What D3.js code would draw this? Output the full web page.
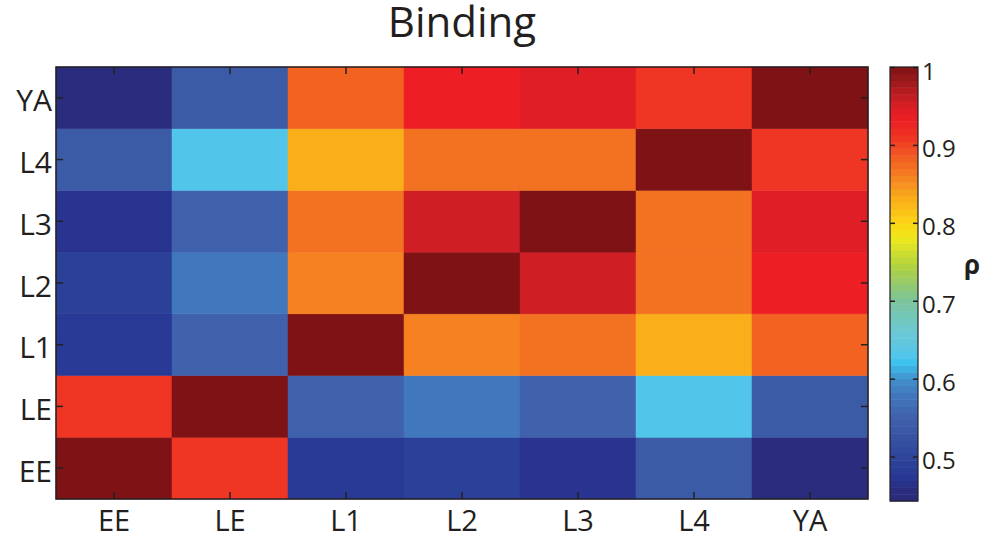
<!DOCTYPE html>
<html>
<head>
<meta charset="utf-8">
<script src="https://cdn.jsdelivr.net/npm/d3@7"></script>
<style>
  body { margin: 0; background: #fff; }
  text { font-family: "Open Sans", "Noto Sans", sans-serif; fill: #231f20; }
  .axis path { display: none; }
  .axis line { stroke: #231f20; stroke-width: 1.5; }
</style>
</head>
<body>
<svg id="chart"></svg>
<script>
// stages on both axes (bottom row first)
var stages = ["EE", "LE", "L1", "L2", "L3", "L4", "YA"];

// correlation values, one row per y stage (EE .. YA), columns in x order
var rowEE = [1.000, 0.910, 0.475, 0.490, 0.470, 0.540, 0.455];
var rowLE = [0.910, 1.000, 0.550, 0.580, 0.550, 0.630, 0.540];
var rowL1 = [0.475, 0.550, 1.000, 0.860, 0.870, 0.830, 0.880];
var rowL2 = [0.490, 0.580, 0.860, 1.000, 0.955, 0.870, 0.930];
var rowL3 = [0.470, 0.550, 0.870, 0.955, 1.000, 0.870, 0.945];
var rowL4 = [0.540, 0.630, 0.830, 0.870, 0.870, 1.000, 0.910];
var rowYA = [0.455, 0.540, 0.880, 0.930, 0.945, 0.910, 1.000];
var rows = [rowEE, rowLE, rowL1, rowL2, rowL3, rowL4, rowYA];

var colorbarTicks = [0.5, 0.6, 0.7, 0.8, 0.9, 1];
var rhoMin = 0.443, rhoMax = 1;

// jet-like colour map
var stopValues = [0.443, 0.455, 0.47, 0.475, 0.49, 0.54, 0.55, 0.58, 0.60, 0.62, 0.63, 0.66,
                  0.70, 0.74, 0.78, 0.80, 0.83, 0.86, 0.87, 0.88, 0.91, 0.93, 0.945, 0.955, 0.975, 1.0];
var stopColors = ["#2a2a78", "#2a2d7d", "#293490", "#283996", "#2b4097", "#3c5ba7", "#4061ac",
                  "#4178bd", "#4390cb", "#3ac3ee", "#52c5ea", "#6cc8d4", "#7bc49c", "#aad046",
                  "#eee81c", "#fcd615", "#f9ae1a", "#f68121", "#f27222", "#f26322", "#ef3624",
                  "#ed1f24", "#e01e25", "#cf1f25", "#a81b20", "#7e1214"];

var canvas_width = 994, canvas_height = 540;
var plotLeft = 56, plotRight = 868, plotTop = 67, plotBottom = 499;

var color = d3.scaleLinear().domain(stopValues).range(stopColors)
  .interpolate(d3.interpolateRgb).clamp(true);

var svg = d3.select("#chart").attr("width", canvas_width).attr("height", canvas_height);

var xScale = d3.scaleBand().domain(stages).range([plotLeft, plotRight]);
var yScale = d3.scaleBand().domain(stages).range([plotBottom, plotTop]);

// cells
var cells = [];
rows.forEach(function (r, i) {
  r.forEach(function (v, j) {
    cells.push({ row: stages[i], col: stages[j], value: v });
  });
});

svg.append("g")
  .selectAll("rect")
  .data(cells)
  .enter()
  .append("rect")
  .attr("x", function (d) { return xScale(d.col); })
  .attr("y", function (d) { return yScale(d.row); })
  .attr("width", xScale.bandwidth())
  .attr("height", yScale.bandwidth())
  .attr("fill", function (d) { return color(d.value); })
  .attr("stroke", function (d) { return color(d.value); })
  .attr("stroke-width", 0.5);

// frame
svg.append("rect")
  .attr("x", plotLeft).attr("y", plotTop)
  .attr("width", plotRight - plotLeft).attr("height", plotBottom - plotTop)
  .attr("fill", "none").attr("stroke", "#231f20").attr("stroke-width", 1.5);

// axes, ticks pointing inward on all four sides
var xAxis = svg.append("g").attr("class", "axis")
  .attr("transform", "translate(0," + plotBottom + ")")
  .call(d3.axisBottom(xScale).tickSize(-7));
xAxis.selectAll("text")
  .attr("y", 32).attr("dy", 0)
  .style("font-size", "29px");

svg.append("g").attr("class", "axis")
  .attr("transform", "translate(0," + plotTop + ")")
  .call(d3.axisTop(xScale).tickSize(-7).tickFormat(""));

var yAxis = svg.append("g").attr("class", "axis")
  .attr("transform", "translate(" + plotLeft + ",0)")
  .call(d3.axisLeft(yScale).tickSize(-7));
yAxis.selectAll("text")
  .attr("x", -4).attr("dy", "0.45em")
  .style("font-size", "30px");

svg.append("g").attr("class", "axis")
  .attr("transform", "translate(" + plotRight + ",0)")
  .call(d3.axisRight(yScale).tickSize(-7).tickFormat(""));

// title
svg.append("text")
  .attr("x", (plotLeft + plotRight) / 2)
  .attr("y", 37)
  .attr("text-anchor", "middle")
  .style("font-size", "42px")
  .text("Binding");

// colour bar
var cbLeft = 890, cbRight = 918, cbTop = 67, cbBottom = 501;
var cbScale = d3.scaleLinear().domain([rhoMin, rhoMax]).range([cbBottom, cbTop]);
var nBands = 64;
var bands = d3.range(nBands).map(function (i) {
  return {
    lo: rhoMin + (rhoMax - rhoMin) * i / nBands,
    hi: rhoMin + (rhoMax - rhoMin) * (i + 1) / nBands
  };
});

svg.append("g")
  .selectAll("rect")
  .data(bands)
  .enter()
  .append("rect")
  .attr("x", cbLeft)
  .attr("y", function (d) { return cbScale(d.hi); })
  .attr("width", cbRight - cbLeft)
  .attr("height", function (d) { return cbScale(d.lo) - cbScale(d.hi) + 0.5; })
  .attr("fill", function (d) { return color((d.lo + d.hi) / 2); });

svg.append("rect")
  .attr("x", cbLeft).attr("y", cbTop)
  .attr("width", cbRight - cbLeft).attr("height", cbBottom - cbTop)
  .attr("fill", "none").attr("stroke", "#231f20").attr("stroke-width", 1.2);

var cbAxis = svg.append("g").attr("class", "axis")
  .attr("transform", "translate(" + cbRight + ",0)")
  .call(d3.axisRight(cbScale).tickValues(colorbarTicks).tickSize(-5)
    .tickFormat(function (d) { return String(d); }));
cbAxis.selectAll("text")
  .attr("x", 4).attr("dy", "0.5em")
  .style("font-size", "24px");

svg.append("g").attr("class", "axis")
  .attr("transform", "translate(" + cbLeft + ",0)")
  .call(d3.axisLeft(cbScale).tickValues(colorbarTicks).tickSize(-5).tickFormat(""));

svg.append("text")
  .attr("x", 972)
  .attr("y", 274)
  .attr("text-anchor", "middle")
  .style("font-size", "26px")
  .style("font-weight", "bold")
  .text("ρ");
</script>
</body>
</html>
